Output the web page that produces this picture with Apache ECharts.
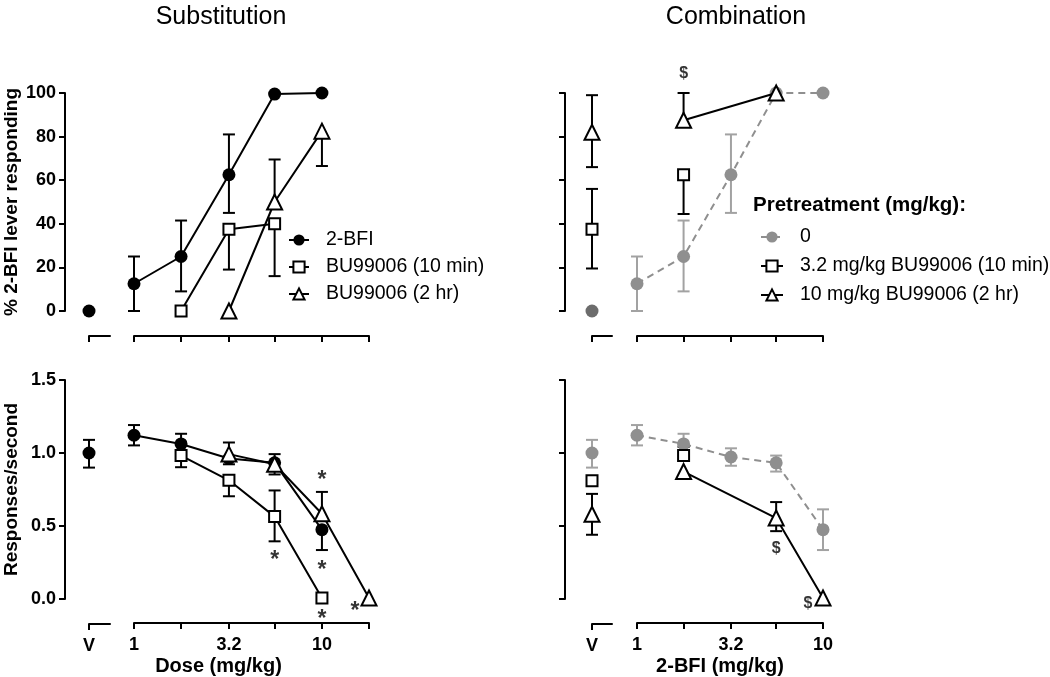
<!DOCTYPE html>
<html>
<head>
<meta charset="utf-8">
<script src="https://cdn.jsdelivr.net/npm/echarts@6/dist/echarts.min.js"></script>
<style>html,body{margin:0;padding:0;background:#fff}#c{width:1050px;height:677px}</style>
</head>
<body>
<div id="c"></div>
<script>
// ---------------- data ----------------
const doses = [1, 1.78, 3.2, 5.6, 10, 17.8];          // half-log dose steps (mg/kg)
const xTickLabelDoses = [1, 3.2, 10];
const xTickLabels = ['1', '3.2', '10'];
const pctTicks = [0, 20, 40, 60, 80, 100];
const rateTicks = [0, 0.5, 1.0, 1.5];

// Substitution: % 2-BFI lever responding  [dose, value]
const subPctBfiV = [[0, 0]];
const subPctBfi = [[1, 12.5], [1.78, 25], [3.2, 62.5], [5.6, 99.5], [10, 100]];
const subPctBu10 = [[1.78, 0], [3.2, 37.5], [5.6, 40]];
const subPctBu2h = [[3.2, 0], [5.6, 50], [10, 82.5]];
// error bars [dose, mean, low, high]
const subPctBfiErr = [[1, 12.5, 0, 25], [1.78, 25, 9, 41.5], [3.2, 62.5, 45, 81]];
const subPctBu10Err = [[3.2, 37.5, 19, 37.5], [5.6, 40, 16, 40]];
const subPctBu2hErr = [[5.6, 50, 50, 69.5], [10, 82.5, 66.5, 82.5]];

// Substitution: responses/second
const subRateBfiV = [[0, 1.0]];
const subRateBfiVErr = [[0, 1.0, 0.9, 1.09]];
const subRateBfi = [[1, 1.12], [1.78, 1.06], [3.2, 0.96], [5.6, 0.93], [10, 0.47]];
const subRateBu10 = [[1.78, 0.98], [3.2, 0.81], [5.6, 0.56], [10, 0.0]];
const subRateBu2h = [[3.2, 0.99], [5.6, 0.92], [10, 0.58], [17.8, 0.0]];
const subRateBfiErr = [[1, 1.12, 1.05, 1.19], [1.78, 1.06, 1.06, 1.13], [3.2, 0.96, 0.92, 0.96], [5.6, 0.93, 0.93, 0.99], [10, 0.47, 0.33, 0.47]];
const subRateBu10Err = [[1.78, 0.98, 0.9, 0.98], [3.2, 0.81, 0.7, 0.81], [5.6, 0.56, 0.39, 0.74]];
const subRateBu2hErr = [[3.2, 0.99, 0.99, 1.07], [5.6, 0.92, 0.85, 0.92], [10, 0.58, 0.58, 0.73]];
const subRateStars = [[5.6, 0.30], [10, 0.85], [10, 0.23], [10, -0.11], [15, -0.05]];

// Combination: % 2-BFI lever responding
const comPctVehV = [[0, 0]];
const comPctVeh = [[1, 12.5], [1.78, 25], [3.2, 62.5], [5.6, 100], [10, 100]];
const comPctVehErr = [[1, 12.5, 0, 25], [1.78, 25, 9, 41.5], [3.2, 62.5, 45, 81]];
const comPctBu10V = [[0, 37.5]];
const comPctBu10VErr = [[0, 37.5, 19.5, 56]];
const comPctBu10 = [[1.78, 62.5]];
const comPctBu10Err = [[1.78, 62.5, 44.5, 62.5]];
const comPctBu2hV = [[0, 82]];
const comPctBu2hVErr = [[0, 82, 66, 99]];
const comPctBu2h = [[1.78, 87.5], [5.6, 100]];
const comPctBu2hErr = [[1.78, 87.5, 87.5, 100]];
const comPctDollars = [[1.78, 109]];

// Combination: responses/second
const comRateVehV = [[0, 1.0]];
const comRateVehVErr = [[0, 1.0, 0.9, 1.09]];
const comRateVeh = [[1, 1.12], [1.78, 1.06], [3.2, 0.97], [5.6, 0.93], [10, 0.47]];
const comRateVehErr = [[1, 1.12, 1.05, 1.19], [1.78, 1.06, 1.06, 1.13], [3.2, 0.97, 0.91, 1.03], [5.6, 0.93, 0.87, 0.98], [10, 0.47, 0.33, 0.61]];
const comRateBu10V = [[0, 0.81]];
const comRateBu10 = [[1.78, 0.98]];
const comRateBu10Err = [[1.78, 0.98, 0.98, 1.04]];
const comRateBu2hV = [[0, 0.58]];
const comRateBu2hVErr = [[0, 0.58, 0.44, 0.72]];
const comRateBu2h = [[1.78, 0.87], [5.6, 0.55], [10, 0.0]];
const comRateBu2hErr = [[5.6, 0.55, 0.46, 0.66]];
const comRateDollars = [[5.6, 0.34], [8.3, -0.04]];

const subNames = ['2-BFI', 'BU99006 (10 min)', 'BU99006 (2 hr)'];
const comNames = ['0', '3.2 mg/kg BU99006 (10 min)', '10 mg/kg BU99006 (2 hr)'];

// ---------------- helpers ----------------
const FONT = 'Arial, "Liberation Sans", Helvetica, sans-serif';
const lg = d => Math.log10(d);
const GRAY = '#8f8f8f', GRAY_ERR = '#a2a2a2', GRAY_DARK = '#6c6c6c';
const toMain = arr => arr.map(p => [lg(p[0]), p[1]]);
const toMainErr = arr => arr.map(p => [lg(p[0]), p[1], p[2], p[3]]);

// grid indices: 0 LT-V, 1 LT, 2 LB-V, 3 LB, 4 RT-V, 5 RT, 6 RB-V, 7 RB
const grids = [
  {left: 89, top: 93, width: 21, height: 218},
  {left: 134, top: 93, width: 235, height: 218},
  {left: 89, top: 380, width: 21, height: 219},
  {left: 134, top: 380, width: 235, height: 219},
  {left: 592, top: 93, width: 20, height: 218},
  {left: 637, top: 93, width: 186, height: 218},
  {left: 592, top: 380, width: 20, height: 219},
  {left: 637, top: 380, width: 186, height: 219}
];

const axisLine = {show: true, onZero: false, lineStyle: {color: '#000', width: 2}};
const tickStyle = {color: '#000', width: 2};
const labelStyle = {color: '#000', fontFamily: FONT, fontWeight: 'bold', fontSize: 18};

function xAxisCfg(gi) {
  const isV = gi % 2 === 0;
  const bottom = (gi === 2 || gi === 3 || gi === 6 || gi === 7);
  const right = gi >= 4;
  if (isV) {
    return {
      gridIndex: gi, type: 'value', min: 0, max: 1, offset: 25, position: 'bottom',
      axisLine: axisLine,
      axisTick: {show: true, customValues: [0], length: 6, lineStyle: tickStyle},
      axisLabel: Object.assign({show: bottom, customValues: [0], formatter: () => 'V', margin: 13}, labelStyle),
      splitLine: {show: false}
    };
  }
  const maxDose = right ? 10 : 17.8;
  const tickDoses = doses.filter(d => d <= maxDose);
  return {
    gridIndex: gi, type: 'value', min: 0, max: lg(maxDose), offset: 25, position: 'bottom',
    axisLine: axisLine,
    axisTick: {show: true, customValues: tickDoses.map(lg), length: 6, lineStyle: tickStyle},
    axisLabel: Object.assign({
      show: bottom, customValues: xTickLabelDoses.map(lg), margin: 13,
      formatter: v => {
        for (let i = 0; i < xTickLabelDoses.length; i++) if (Math.abs(lg(xTickLabelDoses[i]) - v) < 1e-6) return xTickLabels[i];
        return '';
      }
    }, labelStyle),
    name: bottom ? (right ? '2-BFI (mg/kg)' : 'Dose (mg/kg)') : '',
    nameLocation: 'middle', nameGap: 33,
    nameTextStyle: {color: '#000', fontFamily: FONT, fontWeight: 'bold', fontSize: 20,
      padding: right ? [0, 20, 0, 0] : [0, 66, 0, 0]},
    splitLine: {show: false}
  };
}

function yAxisCfg(gi) {
  const isV = gi % 2 === 0;
  const top = (gi === 0 || gi === 1 || gi === 4 || gi === 5);
  const right = gi >= 4;
  const base = top
    ? {min: 0, max: 100, interval: 20}
    : {min: 0, max: 1.5, interval: 0.5};
  const cfg = Object.assign({gridIndex: gi, type: 'value', position: 'left', splitLine: {show: false}}, base);
  if (!isV) { cfg.show = false; return cfg; }
  cfg.offset = right ? 27 : 24;
  cfg.axisLine = axisLine;
  cfg.axisTick = {show: true, length: 6, lineStyle: tickStyle, customValues: top ? pctTicks : rateTicks};
  cfg.axisLabel = Object.assign({show: !right, margin: 9,
    customValues: top ? pctTicks : rateTicks,
    formatter: v => top ? String(v) : v.toFixed(1)}, labelStyle);
  if (!right) {
    cfg.name = top ? '% 2-BFI lever responding' : 'Responses/second';
    cfg.nameLocation = 'middle';
    cfg.nameGap = 44;
    cfg.nameTextStyle = {color: '#000', fontFamily: FONT, fontWeight: 'bold', fontSize: 19};
  }
  return cfg;
}

const SYM = {
  circle: {symbol: 'circle', size: 13},
  square: {symbol: 'rect', size: 11},
  triangle: {symbol: 'triangle', size: 15}
};

function lineSeries(name, gi, data, shape, opts) {
  opts = opts || {};
  const color = opts.color || '#000';
  const fill = shape === 'circle' ? color : '#fff';
  return {
    type: 'line', name: name, xAxisIndex: gi, yAxisIndex: gi,
    data: data, symbol: SYM[shape].symbol, symbolSize: SYM[shape].size,
    showSymbol: true, clip: false, animation: false, silent: true,
    z: opts.z || 3,
    lineStyle: {color: opts.lineColor || color, width: 2, type: opts.dashed ? [7, 5] : 'solid'},
    itemStyle: {color: fill, borderColor: color, borderWidth: shape === 'circle' ? 0 : 2, opacity: 1},
    emphasis: {disabled: true}
  };
}

function errSeries(gi, data, color) {
  return {
    type: 'custom', xAxisIndex: gi, yAxisIndex: gi, data: data, clip: false,
    z: 2, silent: true, animation: false,
    renderItem: (params, api) => {
      const x = api.value(0), m = api.value(1), lo = api.value(2), hi = api.value(3);
      const pLo = api.coord([x, lo]), pHi = api.coord([x, hi]);
      const st = {stroke: color || '#000', lineWidth: 2};
      const ch = [{type: 'line', shape: {x1: pLo[0], y1: pLo[1], x2: pHi[0], y2: pHi[1]}, style: st}];
      const w = 6;
      if (lo !== m) ch.push({type: 'line', shape: {x1: pLo[0] - w, y1: pLo[1], x2: pLo[0] + w, y2: pLo[1]}, style: st});
      if (hi !== m) ch.push({type: 'line', shape: {x1: pHi[0] - w, y1: pHi[1], x2: pHi[0] + w, y2: pHi[1]}, style: st});
      return {type: 'group', children: ch};
    }
  };
}

function textSeries(gi, data, text, fontSize, dy) {
  return {
    type: 'scatter', xAxisIndex: gi, yAxisIndex: gi, clip: false, silent: true, animation: false,
    symbolSize: 1, itemStyle: {color: 'rgba(0,0,0,0)'}, z: 6,
    data: data.map(p => ({value: [lg(p[0]), p[1]], name: text})),
    label: {show: true, position: 'inside', formatter: '{b}', color: '#000',
      fontFamily: FONT, fontWeight: 'bold', fontSize: fontSize, offset: [0, dy]}
  };
}

const series = [
  // ---- Substitution top (grid 1 main, 0 V)
  lineSeries(subNames[0], 1, toMain(subPctBfi), 'circle', {z: 3}),
  lineSeries(subNames[1], 1, toMain(subPctBu10), 'square', {z: 4}),
  lineSeries(subNames[2], 1, toMain(subPctBu2h), 'triangle', {z: 5}),
  errSeries(1, toMainErr(subPctBfiErr)),
  errSeries(1, toMainErr(subPctBu10Err)),
  errSeries(1, toMainErr(subPctBu2hErr)),
  lineSeries(subNames[0], 0, subPctBfiV, 'circle', {z: 3}),
  // ---- Substitution bottom (grid 3 main, 2 V)
  lineSeries(subNames[0], 3, toMain(subRateBfi), 'circle', {z: 3}),
  lineSeries(subNames[1], 3, toMain(subRateBu10), 'square', {z: 4}),
  lineSeries(subNames[2], 3, toMain(subRateBu2h), 'triangle', {z: 5}),
  errSeries(3, toMainErr(subRateBfiErr)),
  errSeries(3, toMainErr(subRateBu10Err)),
  errSeries(3, toMainErr(subRateBu2hErr)),
  lineSeries(subNames[0], 2, subRateBfiV, 'circle', {z: 3}),
  errSeries(2, subRateBfiVErr),
  textSeries(3, subRateStars, '*', 23, 6),
  // ---- Combination top (grid 5 main, 4 V)
  lineSeries(comNames[0], 5, toMain(comPctVeh), 'circle', {color: GRAY, dashed: true, z: 3}),
  lineSeries(comNames[1], 5, toMain(comPctBu10), 'square', {z: 4}),
  lineSeries(comNames[2], 5, toMain(comPctBu2h), 'triangle', {z: 5}),
  errSeries(5, toMainErr(comPctVehErr), GRAY_ERR),
  errSeries(5, toMainErr(comPctBu10Err)),
  errSeries(5, toMainErr(comPctBu2hErr)),
  lineSeries(comNames[0], 4, comPctVehV, 'circle', {color: GRAY_DARK, z: 3}),
  lineSeries(comNames[1], 4, comPctBu10V, 'square', {z: 4}),
  lineSeries(comNames[2], 4, comPctBu2hV, 'triangle', {z: 5}),
  errSeries(4, comPctBu10VErr),
  errSeries(4, comPctBu2hVErr),
  textSeries(5, comPctDollars, '$', 16, 0),
  // ---- Combination bottom (grid 7 main, 6 V)
  lineSeries(comNames[0], 7, toMain(comRateVeh), 'circle', {color: GRAY, dashed: true, z: 3}),
  lineSeries(comNames[1], 7, toMain(comRateBu10), 'square', {z: 4}),
  lineSeries(comNames[2], 7, toMain(comRateBu2h), 'triangle', {z: 5}),
  errSeries(7, toMainErr(comRateVehErr), GRAY_ERR),
  errSeries(7, toMainErr(comRateBu10Err)),
  errSeries(7, toMainErr(comRateBu2hErr)),
  lineSeries(comNames[0], 6, comRateVehV, 'circle', {color: GRAY, z: 3}),
  lineSeries(comNames[1], 6, comRateBu10V, 'square', {z: 4}),
  lineSeries(comNames[2], 6, comRateBu2hV, 'triangle', {z: 5}),
  errSeries(6, comRateVehVErr, GRAY_ERR),
  errSeries(6, comRateBu2hVErr),
  textSeries(7, comRateDollars, '$', 16, 0)
];

const legendText = {color: '#000', fontFamily: FONT, fontSize: 19.5, padding: [0, 0, 0, 12]};

const option = {
  backgroundColor: '#fff',
  animation: false,
  title: [
    {text: 'Substitution', left: 216, top: 0, textAlign: 'center',
      textStyle: {color: '#000', fontFamily: FONT, fontWeight: 'normal', fontSize: 25}},
    {text: 'Combination', left: 731, top: 0, textAlign: 'center',
      textStyle: {color: '#000', fontFamily: FONT, fontWeight: 'normal', fontSize: 25}},
    {text: 'Pretreatment (mg/kg):', left: 748, top: 190,
      textStyle: {color: '#000', fontFamily: FONT, fontWeight: 'bold', fontSize: 20.5}}
  ],
  grid: grids,
  xAxis: grids.map((g, i) => xAxisCfg(i)),
  yAxis: grids.map((g, i) => yAxisCfg(i)),
  legend: [
    {data: subNames, left: 283, top: 225, orient: 'vertical', itemWidth: 20, itemHeight: 14,
      itemGap: 7, selectedMode: false, textStyle: legendText, lineStyle: {width: 2}},
    {data: comNames, left: 755, top: 222, orient: 'vertical', itemWidth: 22, itemHeight: 14,
      itemGap: 9, selectedMode: false, textStyle: legendText, lineStyle: {width: 2}}
  ],
  series: series
};

const chart = echarts.init(document.getElementById('c'), null, {renderer: 'canvas'});
chart.setOption(option);
</script>
</body>
</html>
